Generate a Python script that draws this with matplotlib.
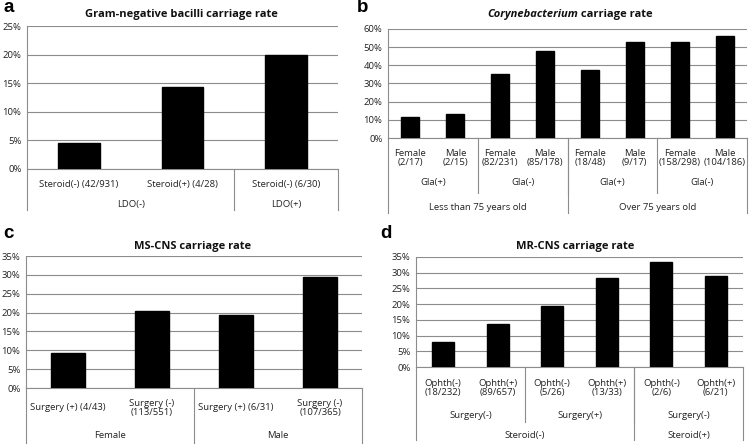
import matplotlib
matplotlib.use('Agg')
import matplotlib.pyplot as plt
from matplotlib.ticker import FuncFormatter

plt.rcParams['font.family'] = ['Open Sans', 'DejaVu Sans']

# данные (%)
a_vals = [4.5, 14.3, 20.0]
a_cats = ['Steroid(-) (42/931)', 'Steroid(+) (4/28)', 'Steroid(-) (6/30)']
a_grp = [('LDO(-)', 2), ('LDO(+)', 1)]

b_vals = [11.8, 13.3, 35.5, 47.8, 37.5, 52.9, 53.0, 55.9]
b_cats = ['Female\n(2/17)', 'Male\n(2/15)', 'Female\n(82/231)', 'Male\n(85/178)',
          'Female\n(18/48)', 'Male\n(9/17)', 'Female\n(158/298)', 'Male\n(104/186)']
b_grp1 = [('Gla(+)', 2), ('Gla(-)', 2), ('Gla(+)', 2), ('Gla(-)', 2)]
b_grp2 = [('Less than 75 years old', 4), ('Over 75 years old', 4)]

c_vals = [9.3, 20.5, 19.4, 29.3]
c_cats = ['Surgery (+) (4/43)', 'Surgery (-)\n(113/551)', 'Surgery (+) (6/31)', 'Surgery (-)\n(107/365)']
c_grp = [('Female', 2), ('Male', 2)]

d_vals = [7.8, 13.6, 19.3, 28.3, 33.3, 28.8]
d_cats = ['Ophth(-)\n(18/232)', 'Ophth(+)\n(89/657)', 'Ophth(-)\n(5/26)', 'Ophth(+)\n(13/33)',
          'Ophth(-)\n(2/6)', 'Ophth(+)\n(6/21)']
d_grp1 = [('Surgery(-)', 2), ('Surgery(+)', 2), ('Surgery(-)', 2)]
d_grp2 = [('Steroid(-)', 4), ('Steroid(+)', 2)]

W, H = 751, 444
LC = '#8c8c8c'
TC = '#222222'
FS = 6.8
fig = plt.figure(figsize=(W / 100, H / 100), dpi=100)


def panel(box, vals, ymax, step, cats, cat_y, levels, box_bot):
    # box: left, top, right, bottom(0%) в пикселях
    l, t, r, b = box
    ax = fig.add_axes([l / W, 1 - b / H, (r - l) / W, (b - t) / H])
    n = len(vals)
    x = list(range(n))
    ax.bar(x, vals, width=0.4, color='black', edgecolor='black', zorder=3)
    ax.set_xlim(-0.5, n - 0.5)
    ax.set_ylim(0, ymax)
    ax.set_yticks(range(0, ymax + 1, step))
    ax.yaxis.set_major_formatter(FuncFormatter(lambda v, p: '%d%%' % v))
    ax.grid(axis='y', color=LC, lw=0.8, zorder=0)
    ax.set_xticks([])
    ax.tick_params(axis='y', length=0, labelsize=FS, pad=4, labelcolor=TC)
    for s in ['top', 'right']:
        ax.spines[s].set_visible(False)
    for s in ['left', 'bottom']:
        ax.spines[s].set_color(LC)
        ax.spines[s].set_linewidth(0.8)
    tr = ax.get_xaxis_transform()
    fy = lambda y: (b - y) / (b - t)
    for i, c in enumerate(cats):
        ax.text(i, fy(cat_y), c, transform=tr, ha='center', va='center',
                fontsize=FS, color=TC, linespacing=1.1)
    # внешние границы
    for xx in [-0.5, n - 0.5]:
        ax.plot([xx, xx], [0, fy(box_bot)], transform=tr, color=LC, lw=0.8, clip_on=False)
    for groups, ty, lb in levels:
        pos = -0.5
        for lab, k in groups:
            ax.text(pos + k / 2, fy(ty), lab, transform=tr, ha='center', va='center',
                    fontsize=FS, color=TC)
            pos += k
            if pos < n - 0.5:
                ax.plot([pos, pos], [0, fy(lb)], transform=tr, color=LC, lw=0.8, clip_on=False)
    return ax


panel((27, 26, 338, 169), a_vals, 25, 5, a_cats, 184, [(a_grp, 204, 210)], 210)
panel((388, 29, 747, 138), b_vals, 60, 10, b_cats, 158,
      [(b_grp1, 182, 193), (b_grp2, 207, 213)], 213)
panel((26, 256, 362, 388), c_vals, 35, 5, c_cats, 408, [(c_grp, 435, 444)], 444)
panel((416, 257, 743, 367), d_vals, 35, 5, d_cats, 388,
      [(d_grp1, 415, 422), (d_grp2, 435, 440)], 440)

tk = dict(fontsize=8, weight='bold', color='#111111', va='center')
fig.text(181 / W, 1 - 14 / H, 'Gram-negative bacilli carriage rate', ha='center', **tk)
fig.text(578 / W, 1 - 14 / H, 'Corynebacterium', ha='right', style='italic', **tk)
fig.text(578 / W, 1 - 14 / H, ' carriage rate', ha='left', **tk)
fig.text(193 / W, 1 - 246 / H, 'MS-CNS carriage rate', ha='center', **tk)
fig.text(575 / W, 1 - 246 / H, 'MR-CNS carriage rate', ha='center', **tk)

lk = dict(fontsize=13.5, weight='bold', color='black', va='center', ha='left',
          family='Liberation Sans')
fig.text(3 / W, 1 - 8 / H, 'a', **lk)
fig.text(357 / W, 1 - 8 / H, 'b', **lk)
fig.text(3 / W, 1 - 233 / H, 'c', **lk)
fig.text(380 / W, 1 - 233 / H, 'd', **lk)

fig.savefig('out.png', dpi=100)
